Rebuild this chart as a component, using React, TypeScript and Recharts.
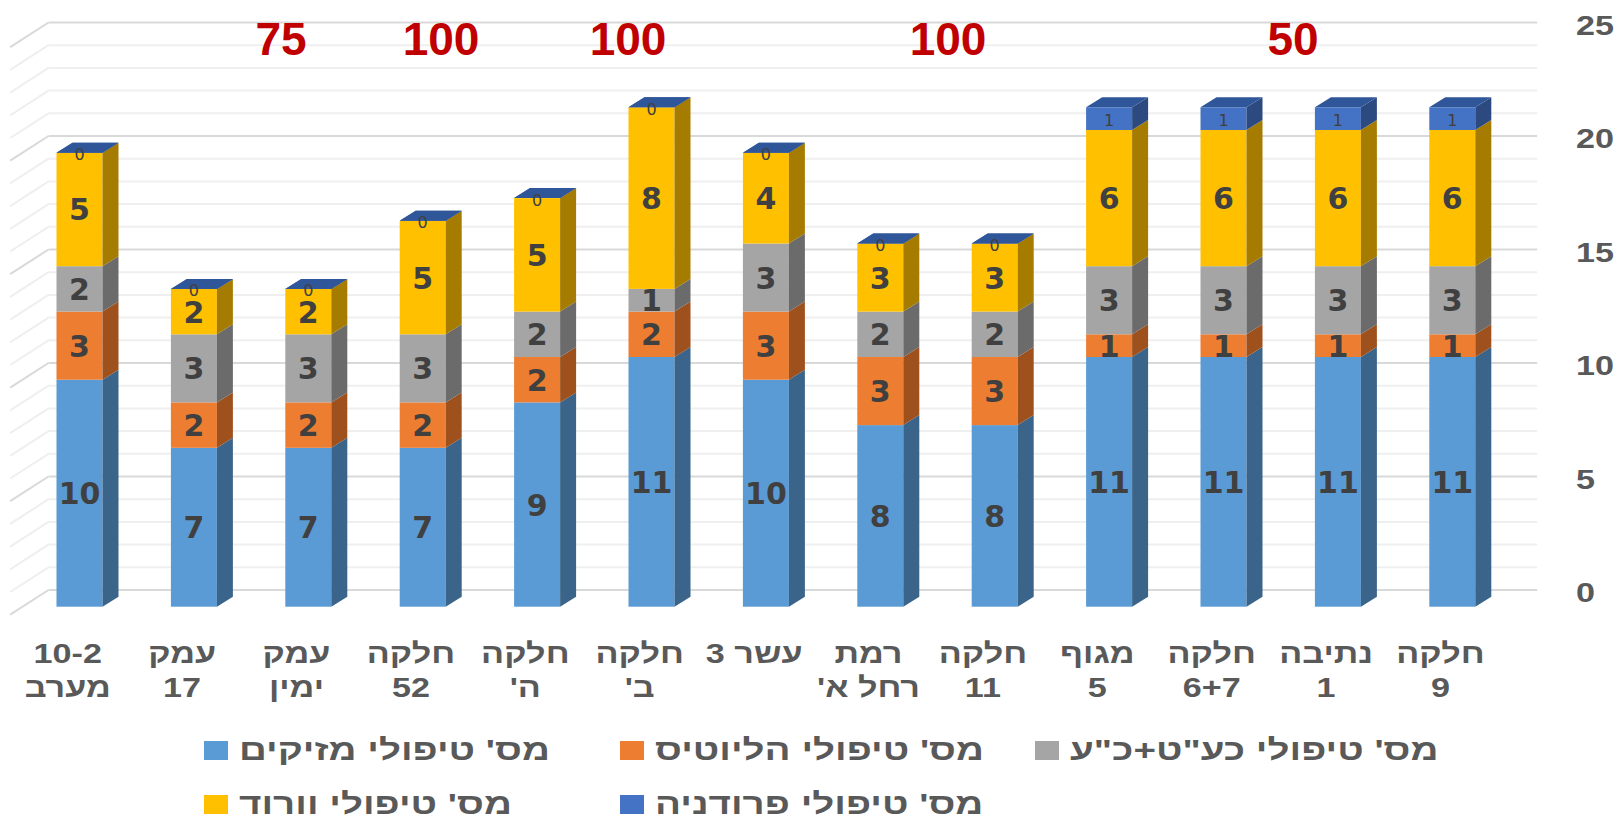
import { Bar, BarChart, CartesianGrid, LabelList, Legend, XAxis, YAxis } from "recharts";

const CATEGORIES = [
  "10-2\nמערב",
  "עמק\n17",
  "עמק\nימין",
  "חלקה\n52",
  "חלקה\nה'",
  "חלקה\nב'",
  "עשר 3",
  "רמת\nרחל א'",
  "חלקה\n11",
  "מגוף\n5",
  "חלקה\n6+7",
  "נתיבה\n1",
  "חלקה\n9",
];

const MAZIKIM = [10, 7, 7, 7, 9, 11, 10, 8, 8, 11, 11, 11, 11];
const HELIOTIS = [3, 2, 2, 2, 2, 2, 3, 3, 3, 1, 1, 1, 1];
const KAT = [2, 3, 3, 3, 2, 1, 3, 2, 2, 3, 3, 3, 3];
const VARUD = [5, 2, 2, 5, 5, 8, 4, 3, 3, 6, 6, 6, 6];
const PRODENIA = [0, 0, 0, 0, 0, 0, 0, 0, 0, 1, 1, 1, 1];

const SERIES_NAMES = [
  "מס' טיפולי מזיקים",
  "מס' טיפולי הליוטיס",
  "מס' טיפולי כע\"ט+כ\"ע",
  "מס' טיפולי וורוד",
  "מס' טיפולי פרודניה",
];

const Y_TICKS = [0, 1, 2, 3, 4, 5, 6, 7, 8, 9, 10, 11, 12, 13, 14, 15, 16, 17, 18, 19, 20, 21, 22, 23, 24, 25];
const Y_LABELS = [0, 5, 10, 15, 20, 25];

const ANNOTATIONS = ["75", "100", "100", "100", "50"];
const ANNOTATION_X = [281, 441, 628, 948, 1293];

const data = CATEGORIES.map((name, i) => ({
  name,
  mazikim: MAZIKIM[i],
  heliotis: HELIOTIS[i],
  kat: KAT[i],
  varud: VARUD[i],
  prodenia: PRODENIA[i],
}));

// front / side colours per series
const FRONT = ["#5B9BD5", "#ED7D31", "#A5A5A5", "#FFC000", "#4472C4"];
const SIDE = ["#3A6489", "#9E511D", "#6B6B6B", "#A67C00", "#2C4A80"];
const TOP = "#30569A";
const KEYS = ["mazikim", "heliotis", "kat", "varud", "prodenia"];

const DEPTH_X = 16;
const DEPTH_Y = 10;
const WALL_Y = 16.7;
const STRETCH = 1.22;
const AXIS_FONT = "'Liberation Sans', Arial, sans-serif";
const LABEL_FONT = "'DejaVu Sans', Verdana, sans-serif";

function Box3D(props: any) {
  const { x, y, width, height, front, side, drawTop } = props;
  const r = x + width;
  return (
    <g>
      {height > 0 && <rect x={x} y={y} width={width} height={height} fill={front} />}
      {height > 0 && (
        <polygon
          points={`${r},${y} ${r + DEPTH_X},${y - DEPTH_Y} ${r + DEPTH_X},${y + height - DEPTH_Y} ${r},${y + height}`}
          fill={side}
        />
      )}
      {drawTop && (
        <polygon
          points={`${x},${y} ${x + DEPTH_X},${y - DEPTH_Y} ${r + DEPTH_X},${y - DEPTH_Y} ${r},${y}`}
          fill={TOP}
        />
      )}
    </g>
  );
}

function GridLine(p: any) {
  const v = Y_TICKS[p.index];
  const major = v % 5 === 0;
  const by = p.y1 - WALL_Y;
  const bx1 = p.x1 + 26;
  const bx2 = p.x2 + 27.5;
  const stroke = major ? "#D9D9D9" : "#EFEFEF";
  return (
    <g key={p.key}>
      <line x1={bx1} y1={by} x2={bx2} y2={by} stroke={stroke} strokeWidth={2} />
      <line x1={bx1} y1={by} x2={bx1 - 38.3} y2={by + 24.7} stroke={stroke} strokeWidth={2} />
    </g>
  );
}

function YTick(p: any) {
  const v = p.payload.value;
  if (!Y_LABELS.includes(v)) return null;
  return (
    <text
      transform={`translate(${p.x + 66.3},${p.y - WALL_Y + 12}) scale(${STRETCH},1)`}
      fontFamily={AXIS_FONT}
      fontWeight="bold"
      fontSize={28}
      fill="#595959"
    >
      {v}
    </text>
  );
}

function XTick(p: any) {
  const lines = String(p.payload.value).split("\n");
  return (
    <g>
      {lines.map((line, i) => (
        <text
          key={i}
          transform={`translate(${p.x - 12},${p.y + 56.6 + i * 33.4}) scale(${STRETCH},1)`}
          textAnchor="middle"
          direction="rtl"
          fontFamily={AXIS_FONT}
          fontWeight="bold"
          fontSize={28}
          fill="#595959"
        >
          {line}
        </text>
      ))}
    </g>
  );
}

function BigLabel(p: any) {
  const { x, y, width, height, value } = p;
  return (
    <text
      x={Number(x) + Number(width) / 2}
      y={Number(y) + Number(height) / 2 + 11}
      textAnchor="middle"
      fontFamily={LABEL_FONT}
      fontWeight="bold"
      fontSize={30}
      fill="#404040"
    >
      {value}
    </text>
  );
}

function SmallLabel(p: any) {
  const { x, y, width, height, value } = p;
  return (
    <text
      x={Number(x) + Number(width) / 2}
      y={Number(y) + Number(height) / 2 + 7.5}
      textAnchor="middle"
      fontFamily={LABEL_FONT}
      fontSize={16}
      fill="#404040"
    >
      {value}
    </text>
  );
}

const LEGEND_COL_X = [204, 620, 1035];
const LEGEND_ROW_Y = [21, 75];

function LegendContent(props: any) {
  const payload = [...(props.payload || [])].sort(
    (a: any, b: any) => KEYS.indexOf(String(a.dataKey)) - KEYS.indexOf(String(b.dataKey))
  );
  return (
    <svg width={1622} height={97} style={{ overflow: "visible" }}>
      {payload.map((e: any, i: number) => {
        const sx = LEGEND_COL_X[i % 3];
        const sy = LEGEND_ROW_Y[Math.floor(i / 3)];
        return (
          <g key={i}>
            <rect x={sx} y={sy} width={24} height={19} fill={e.color} />
            <text
              transform={`translate(${sx + 35},${sy + 19}) scale(1.33,1)`}
              fontFamily={AXIS_FONT}
              fontWeight="bold"
              fontSize={29}
              fill="#595959"
            >
              {e.value}
            </text>
          </g>
        );
      })}
    </svg>
  );
}

export default function App() {
  return (
    <div style={{ position: "absolute", left: 0, top: 0, width: 1622, height: 817, background: "#fff" }}>
      <BarChart
        width={1622}
        height={817}
        data={data}
        margin={{ top: 39.2, right: 12.3, bottom: 110.3, left: 22.5 }}
        barSize={46}
      >
        <CartesianGrid vertical={false} syncWithTicks horizontal={(p: any) => <GridLine {...p} />} />
        <XAxis
          dataKey="name"
          height={100}
          axisLine={false}
          tickLine={false}
          tickSize={0}
          tickMargin={0}
          interval={0}
          tick={<XTick />}
        />
        <YAxis
          orientation="right"
          width={100}
          domain={[0, 25]}
          ticks={Y_TICKS}
          interval={0}
          axisLine={false}
          tickLine={false}
          tickSize={0}
          tickMargin={0}
          tick={<YTick />}
        />
        <Legend
          verticalAlign="middle"
          align="center"
          wrapperStyle={{ top: 720, left: 0, width: 1622, height: 97 }}
          content={<LegendContent />}
        />
        {KEYS.map((k, si) => (
          <Bar
            key={k}
            dataKey={k}
            name={SERIES_NAMES[si]}
            stackId="a"
            fill={FRONT[si]}
            isAnimationActive={false}
            shape={(p: any) => (
              <Box3D
                {...p}
                front={FRONT[si]}
                side={SIDE[si]}
                drawTop={si === 4 || (si === 3 && p.payload && p.payload.prodenia === 0)}
              />
            )}
          >
            <LabelList dataKey={k} content={si === 4 ? <SmallLabel /> : <BigLabel />} />
          </Bar>
        ))}
      </BarChart>
      <svg
        width={1622}
        height={80}
        style={{ position: "absolute", left: 0, top: 0, pointerEvents: "none" }}
      >
        {ANNOTATIONS.map((t, i) => (
          <text
            key={i}
            x={ANNOTATION_X[i]}
            y={55}
            textAnchor="middle"
            fontFamily={AXIS_FONT}
            fontWeight="bold"
            fontSize={46}
            fill="#C00000"
          >
            {t}
          </text>
        ))}
      </svg>
    </div>
  );
}
